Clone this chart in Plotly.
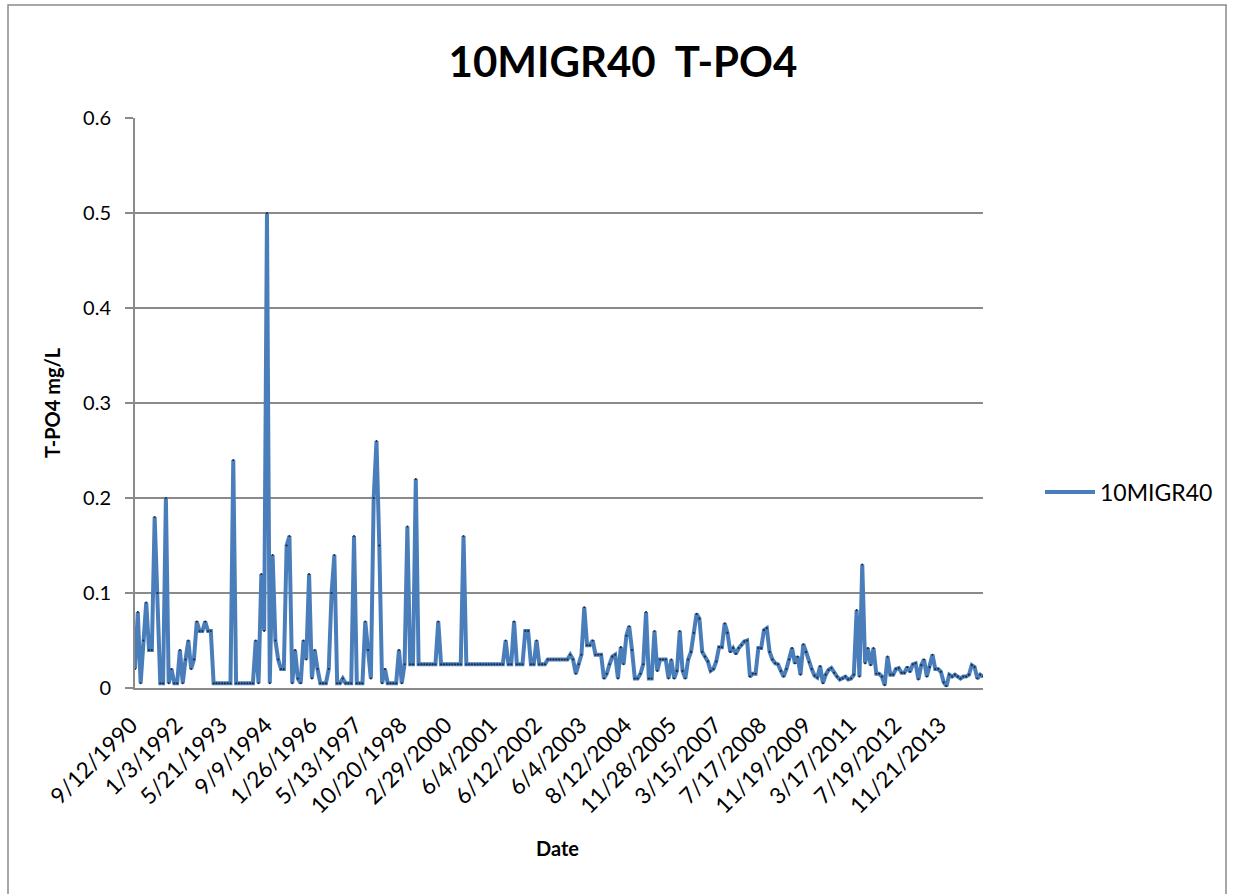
import plotly.graph_objects as go

# Station and measured total phosphate (mg/L), one value per sampling date, in order
station = "10MIGR40"
tpo4 = [
    0.02, 0.08, 0.005, 0.05, 0.09, 0.04, 0.04, 0.18, 0.1, 0.005,
    0.005, 0.2, 0.005, 0.02, 0.005, 0.005, 0.04, 0.005, 0.03, 0.05,
    0.02, 0.03, 0.07, 0.06, 0.06, 0.07, 0.06, 0.06, 0.005, 0.005,
    0.005, 0.005, 0.005, 0.005, 0.005, 0.24, 0.005, 0.005, 0.005, 0.005,
    0.005, 0.005, 0.005, 0.05, 0.005, 0.12, 0.06, 0.5, 0.005, 0.14,
    0.05, 0.03, 0.02, 0.02, 0.15, 0.16, 0.005, 0.04, 0.01, 0.005,
    0.05, 0.03, 0.12, 0.01, 0.04, 0.02, 0.005, 0.005, 0.005, 0.02,
    0.1, 0.14, 0.005, 0.005, 0.01, 0.005, 0.005, 0.005, 0.16, 0.005,
    0.005, 0.005, 0.07, 0.04, 0.01, 0.2, 0.26, 0.15, 0.005, 0.02,
    0.005, 0.005, 0.005, 0.005, 0.04, 0.005, 0.025, 0.17, 0.025, 0.025,
    0.22, 0.025, 0.025, 0.025, 0.025, 0.025, 0.025, 0.025, 0.07, 0.025,
    0.025, 0.025, 0.025, 0.025, 0.025, 0.025, 0.025, 0.16, 0.025, 0.025,
    0.025, 0.025, 0.025, 0.025, 0.025, 0.025, 0.025, 0.025, 0.025, 0.025,
    0.025, 0.025, 0.05, 0.025, 0.025, 0.07, 0.025, 0.025, 0.025, 0.06,
    0.06, 0.025, 0.025, 0.05, 0.025, 0.025, 0.025, 0.03, 0.03, 0.03,
    0.03, 0.03, 0.03, 0.03, 0.03, 0.035, 0.03, 0.015, 0.025, 0.035,
    0.085, 0.045, 0.045, 0.05, 0.035, 0.035, 0.035, 0.01, 0.015, 0.025,
    0.033, 0.035, 0.01, 0.043, 0.025, 0.055, 0.065, 0.04, 0.01, 0.01,
    0.015, 0.025, 0.08, 0.01, 0.01, 0.06, 0.018, 0.03, 0.03, 0.03,
    0.01, 0.03, 0.01, 0.018, 0.06, 0.018, 0.01, 0.03, 0.038, 0.058,
    0.078, 0.073, 0.038, 0.033, 0.028, 0.018, 0.02, 0.028, 0.043, 0.043,
    0.068, 0.058, 0.038, 0.042, 0.036, 0.042, 0.045, 0.049, 0.05, 0.012,
    0.015, 0.015, 0.042, 0.042, 0.061, 0.063, 0.038, 0.03, 0.026, 0.025,
    0.018, 0.012, 0.02, 0.03, 0.042, 0.026, 0.033, 0.014, 0.046, 0.038,
    0.027, 0.02, 0.013, 0.011, 0.023, 0.005, 0.014, 0.019, 0.021, 0.016,
    0.012, 0.009, 0.01, 0.012, 0.009, 0.01, 0.014, 0.082, 0.012, 0.13,
    0.026, 0.042, 0.024, 0.042, 0.015, 0.015, 0.012, 0.003, 0.033, 0.014,
    0.014, 0.02, 0.021, 0.016, 0.016, 0.022, 0.017, 0.025, 0.026, 0.009,
    0.024, 0.03, 0.012, 0.022, 0.035, 0.02, 0.02, 0.017, 0.006, 0.002,
    0.014, 0.012, 0.014, 0.012, 0.01, 0.012, 0.012, 0.014, 0.024, 0.022,
    0.01, 0.014, 0.012,
]

# Category labels shown along the date axis (every 16th sample)
tick_dates = [
    "9/12/1990", "1/3/1992", "5/21/1993", "9/9/1994", "1/26/1996",
    "5/13/1997", "10/20/1998", "2/29/2000", "6/4/2001", "6/12/2002",
    "6/4/2003", "8/12/2004", "11/28/2005", "3/15/2007", "7/17/2008",
    "11/19/2009", "3/17/2011", "7/19/2012", "11/21/2013",
]
label_step = 16

y_ticks = [0, 0.1, 0.2, 0.3, 0.4, 0.5, 0.6]

# Page and plot-area geometry in pixels
W, H = 1233, 894
PL, PR, PT, PB = 135, 983, 118, 688
FONT = "Lato"
GRID = "#8a8a8a"
BLUE = "#4A7EBB"


def px_x(x):
    return (x - PL) / (PR - PL)


def px_y(y):
    return (PB - y) / (PB - PT)


idx = list(range(len(tpo4)))

fig = go.Figure()
fig.add_trace(go.Scatter(
    x=idx, y=tpo4, mode="lines", name=station,
    line=dict(color=BLUE, width=4),
))
fig.add_trace(go.Scatter(
    x=idx, y=tpo4, mode="markers", showlegend=False, hoverinfo="skip",
    marker=dict(size=2.2, color="#1d2c40"),
))

fig.update_layout(
    width=W, height=H,
    margin=dict(l=PL, r=W - PR, t=PT, b=H - PB, pad=0),
    paper_bgcolor="white", plot_bgcolor="white",
    font=dict(family=FONT, color="black", size=20),
    title=dict(
        text=f"<b>{station}\u00a0 T-PO4</b>",
        x=623 / W, xanchor="center", xref="container",
        y=1 - 62 / H, yanchor="middle", yref="container",
        font=dict(family=FONT, size=42, color="black"),
    ),
    showlegend=True,
    legend=dict(
        x=px_x(1040), y=px_y(492), xanchor="left", yanchor="middle",
        font=dict(family=FONT, size=23, color="black"),
        bgcolor="rgba(0,0,0,0)", itemwidth=50,
    ),
    xaxis=dict(
        range=[0, len(tpo4) - 1],
        tickmode="array",
        tickvals=idx[::label_step][:len(tick_dates)],
        ticktext=tick_dates,
        tickangle=-45,
        tickfont=dict(family=FONT, size=22.5),
        ticklabelstandoff=13, ticklabelshift=-4,
        showgrid=False, zeroline=False,
        showline=True, linecolor=GRID, linewidth=2,
        ticks="", fixedrange=True,
    ),
    yaxis=dict(
        range=[0, 0.6],
        tickmode="array", tickvals=y_ticks,
        ticktext=[f"{v:g}" for v in y_ticks],
        tickfont=dict(family=FONT, size=20),
        showgrid=True, gridcolor=GRID, gridwidth=1.5,
        zeroline=False,
        showline=True, linecolor=GRID, linewidth=2,
        ticks="outside", ticklen=8, tickcolor=GRID, tickwidth=1.5,
        ticklabelstandoff=10,
    ),
    annotations=[
        dict(text="<b>T-PO4 mg/L</b>", textangle=-90,
             x=px_x(52), y=px_y(403), xref="paper", yref="paper",
             showarrow=False, xanchor="center", yanchor="middle",
             font=dict(family=FONT, size=20, color="black")),
        dict(text="<b>Date</b>",
             x=px_x(557), y=px_y(848), xref="paper", yref="paper",
             showarrow=False, xanchor="center", yanchor="middle",
             font=dict(family=FONT, size=20, color="black")),
    ],
    shapes=[
        dict(type="rect", xref="paper", yref="paper",
             x0=px_x(8), x1=px_x(1226), y0=px_y(900), y1=px_y(5),
             line=dict(color="#8a8a8a", width=1.5), fillcolor="rgba(0,0,0,0)",
             layer="below"),
    ],
)

fig.write_html("out.html")
